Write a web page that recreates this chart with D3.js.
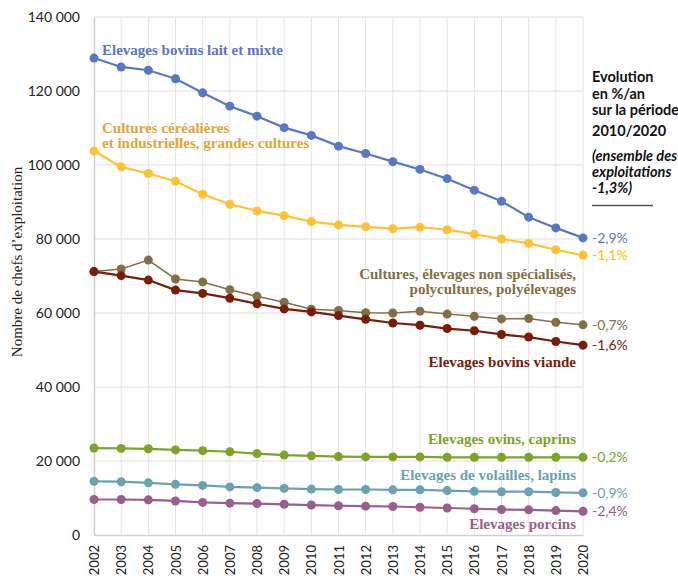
<!DOCTYPE html>
<html>
<head>
<meta charset="utf-8">
<script src="https://cdn.jsdelivr.net/npm/d3@7"></script>
<style>
  body { margin: 0; background: #fff; }
  .tick text { font-family: Lato, "Open Sans", sans-serif; font-size: 14px; fill: #222; }
  .lbl { font-family: "Liberation Serif", serif; font-weight: bold; }
</style>
</head>
<body>
<script>
let years = d3.range(2002, 2021)

let bovinsLait = [128.9, 126.5, 125.6, 123.3, 119.5, 115.9, 113.2, 110.1, 108.0, 105.1,
                  103.1, 100.9, 98.8, 96.3, 93.2, 90.2, 85.9, 83.0, 80.3]
let cereales   = [103.8, 99.5, 97.7, 95.6, 92.1, 89.4, 87.6, 86.3, 84.7, 83.8,
                  83.3, 82.8, 83.2, 82.5, 81.3, 80.0, 78.8, 77.1, 75.6]
let polyculture= [71.2, 71.9, 74.3, 69.2, 68.4, 66.3, 64.5, 62.9, 61.0, 60.7,
                  60.1, 60.0, 60.5, 59.7, 59.1, 58.4, 58.5, 57.5, 56.8]
let bovinsViande=[71.2, 70.1, 68.9, 66.2, 65.3, 64.0, 62.5, 61.1, 60.3, 59.3,
                  58.3, 57.3, 56.7, 55.8, 55.2, 54.2, 53.5, 52.3, 51.3]
let ovins      = [23.5, 23.4, 23.3, 23.0, 22.8, 22.5, 22.0, 21.6, 21.4, 21.2,
                  21.1, 21.1, 21.1, 21.0, 21.0, 21.0, 21.0, 21.0, 21.0]
let volailles  = [14.5, 14.4, 14.1, 13.7, 13.4, 13.0, 12.8, 12.6, 12.4, 12.3,
                  12.3, 12.2, 12.2, 12.0, 11.8, 11.7, 11.7, 11.5, 11.4]
let porcins    = [9.6, 9.6, 9.5, 9.2, 8.8, 8.6, 8.5, 8.3, 8.1, 7.9,
                  7.8, 7.7, 7.5, 7.3, 7.1, 6.9, 6.8, 6.6, 6.4]

let names = ['Elevages bovins lait et mixte',
             'Cultures céréalières|et industrielles, grandes cultures',
             'Cultures, élevages non spécialisés,|polycultures, polyélevages',
             'Elevages bovins viande',
             'Elevages ovins, caprins',
             'Elevages de volailles, lapins',
             'Elevages porcins']
let rates = ['-2,9%', '-1,1%', '-0,7%', '-1,6%', '-0,2%', '-0,9%', '-2,4%']
let yTicks = [0, 20000, 40000, 60000, 80000, 100000, 120000, 140000]
let noteLines = ['Evolution', 'en %/an', 'sur la période', '2010/2020']
let noteItalic = ['(ensemble des', 'exploitations', '-1,3%)']

let series = [
  { name: names[0], values: bovinsLait, rate: rates[0], color: '#5877c4', text: '#5877c4', rateColor: '#5877c4', w: 2.2,
    anchor: 'start', lx: 2002, ly: 55 },
  { name: names[1], values: cereales, rate: rates[1], color: '#ffc233', text: '#e2a43a', rateColor: '#ffc000', w: 2.2,
    anchor: 'start', lx: 2002, ly: 133 },
  { name: names[2], values: polyculture, rate: rates[2], color: '#836f45', text: '#836f45', rateColor: '#836f45', w: 1.5,
    anchor: 'end', lx: 2020, ly: 279 },
  { name: names[3], values: bovinsViande, rate: rates[3], color: '#7a1c08', text: '#7a1c08', rateColor: '#7a1c08', w: 2.2,
    anchor: 'end', lx: 2020, ly: 367 },
  { name: names[4], values: ovins, rate: rates[4], color: '#7ba428', text: '#7ba428', rateColor: '#7ba428', w: 2.2,
    anchor: 'end', lx: 2020, ly: 444 },
  { name: names[5], values: volailles, rate: rates[5], color: '#6aa2b0', text: '#6aa2b0', rateColor: '#6aa2b0', w: 2.2,
    anchor: 'end', lx: 2020, ly: 480 },
  { name: names[6], values: porcins, rate: rates[6], color: '#9a5e8e', text: '#9a5e8e', rateColor: '#9a5e8e', w: 2.2,
    anchor: 'end', lx: 2020, ly: 529 }
]

let width = 678, height = 576
let svg = d3.select('body').append('svg')
  .attr('width', width)
  .attr('height', height)

let x = d3.scaleLinear()
  .domain([2002, 2020])
  .range([94, 583])

let y = d3.scaleLinear()
  .domain([0, 140000])
  .range([535, 17])

let fr = d3.formatLocale({ decimal: ',', thousands: '\u00a0', grouping: [3], currency: ['', '€'] })

// grid
svg.append('g')
  .selectAll('line')
  .data(years.slice(1))
  .enter().append('line')
    .attr('x1', x).attr('x2', x)
    .attr('y1', y(140000)).attr('y2', y(0))
    .attr('stroke', '#e4e4e4')
    .attr('stroke-width', 1)

svg.append('g')
  .selectAll('line')
  .data(yTicks.slice(1))
  .enter().append('line')
    .attr('x1', x(2002)).attr('x2', x(2020))
    .attr('y1', y).attr('y2', y)
    .attr('stroke', '#dedede')
    .attr('stroke-width', 1.2)

// axes
svg.append('g')
  .attr('transform', 'translate(' + x(2002) + ',0)')
  .call(d3.axisLeft(y).tickValues(yTicks).tickFormat(fr.format(',')).tickSize(0).tickPadding(14))
  .call(g => g.select('.domain').attr('stroke', '#cfcfcf').attr('stroke-width', 1.5))

svg.append('g')
  .attr('transform', 'translate(0,' + y(0) + ')')
  .call(d3.axisBottom(x).tickValues(years).tickFormat(d3.format('d')).tickSize(0))
  .call(g => g.select('.domain').attr('stroke', '#cfcfcf').attr('stroke-width', 1.5))
  .call(g => g.selectAll('.tick text')
    .style('font-size', '13px')
    .attr('transform', 'rotate(-90)')
    .attr('text-anchor', 'end')
    .attr('x', -10)
    .attr('y', 0)
    .attr('dy', '0.35em'))

// y title
svg.append('text')
  .attr('class', 'lbl')
  .attr('transform', 'translate(22,262) rotate(-90)')
  .attr('text-anchor', 'middle')
  .style('font-weight', 'normal')
  .style('font-size', '15px')
  .attr('fill', '#222')
  .text('Nombre de chefs d\u2019exploitation')

let line = d3.line()
  .x((d, i) => x(years[i]))
  .y((d) => y(d * 1000))

let groups = svg.selectAll('.series')
  .data(series)
  .enter().append('g')
    .attr('class', 'series')

groups.append('path')
  .attr('d', (d) => line(d.values))
  .attr('fill', 'none')
  .attr('stroke', (d) => d.color)
  .attr('stroke-width', (d) => d.w)

groups.selectAll('circle')
  .data((d) => d.values.map((v, i) => ({ v: v, i: i, c: d.color })))
  .enter().append('circle')
    .attr('cx', (d) => x(years[d.i]))
    .attr('cy', (d) => y(d.v * 1000))
    .attr('r', 4.5)
    .attr('fill', (d) => d.c)

// rates at right
groups.append('text')
  .attr('x', x(2020) + 9)
  .attr('y', (d) => y(d.values[d.values.length - 1] * 1000))
  .attr('dy', '0.35em')
  .attr('fill', (d) => d.rateColor)
  .style('font-family', 'Lato, "Open Sans", sans-serif')
  .style('font-size', '14px')
  .text((d) => d.rate)

// series labels
groups.each(function(d) {
  let t = d3.select(this).append('text')
    .attr('class', 'lbl')
    .attr('fill', d.text)
    .attr('text-anchor', d.anchor)
    .style('font-size', '15px')
  let xs = d.anchor === 'start' ? x(d.lx) + 8 : x(d.lx) - 7
  d.name.split('|').forEach((s, k) => {
    t.append('tspan')
      .attr('x', xs)
      .attr('y', d.ly + k * 14.5)
      .text(s)
  })
})

// note block
let note = svg.append('g')
  .style('font-family', 'Lato, "Open Sans", sans-serif')
  .style('font-size', '14.5px')
  .attr('fill', '#111')

let noteY = [82, 99, 115, 136]
noteLines.forEach((s, k) => {
  note.append('text')
    .attr('x', 592).attr('y', noteY[k])
    .style('font-weight', 'bold')
    .text(s)
})
let italY = [161, 177, 193]
noteItalic.forEach((s, k) => {
  note.append('text')
    .attr('x', 592).attr('y', italY[k])
    .style('font-weight', 'bold')
    .style('font-style', 'italic')
    .text(s)
})
note.append('line')
  .attr('x1', 592).attr('x2', 653)
  .attr('y1', 205.5).attr('y2', 205.5)
  .attr('stroke', '#555')
  .attr('stroke-width', 1.5)
</script>
</body>
</html>
